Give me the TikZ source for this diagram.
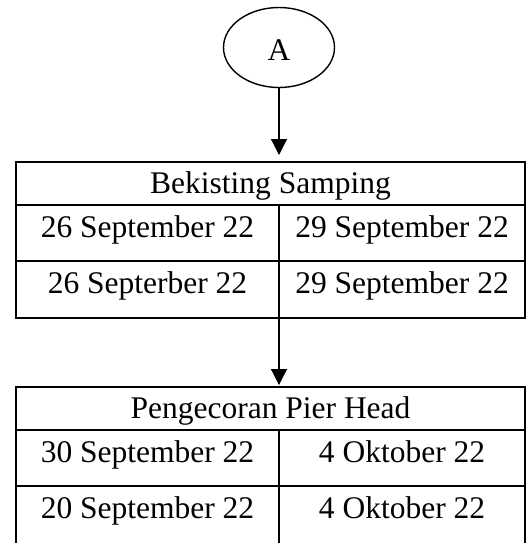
\documentclass[tikz,border=0pt]{standalone}
\usepackage{fontspec}
\setmainfont{Liberation Serif}
\usetikzlibrary{arrows.meta,shapes.geometric}
\begin{document}
\begin{tikzpicture}[x=1pt,y=-1pt,
  txt/.style={font=\fontsize{31.5}{37}\selectfont},
  cell/.style={txt, draw, line width=1.3pt, inner sep=0pt, outer sep=0pt,
    minimum height=56pt, text height=29pt, text depth=21pt},
  leftcell/.style={cell, minimum width=263pt},
  rightcell/.style={cell, minimum width=246pt},
  headcell/.style={cell, minimum width=509pt, minimum height=43pt,
    text height=31pt, text depth=12pt},
  frame/.style={line width=2pt},
  link/.style={line width=1.2pt, -{Triangle[length=16pt,width=16pt]}},
  startnode/.style={txt, ellipse, draw, line width=1.4pt, minimum width=111pt,
    minimum height=80pt, inner sep=0pt, text height=26pt, text depth=0pt}
]
\useasboundingbox (0,0) rectangle (528,543);

% connector label at the top
\node[startnode] (A) at (279,47.5) {A};

% first schedule table
\node[headcell] (h1) at (270.5,183.5) {Bekisting Samping};
\node[leftcell] (a1l) at (147.5,233) {26 September 22};
\node[rightcell] (a1r) at (402,233) {29 September 22};
\node[leftcell, minimum height=57pt, text height=28.5pt, text depth=21.5pt] (b1l) at (147.5,289.5) {26 Septerber 22};
\node[rightcell, minimum height=57pt, text height=28.5pt, text depth=21.5pt] (b1r) at (402,289.5) {29 September 22};
\draw[frame] (h1.north west) rectangle (b1r.south east);

% second schedule table (runs off the bottom edge)
\node[headcell] (h2) at (270.5,408.5) {Pengecoran Pier Head};
\node[leftcell] (a2l) at (147.5,458) {30 September 22};
\node[rightcell] (a2r) at (402,458) {4 Oktober 22};
\node[leftcell, minimum height=59pt, text height=26pt, text depth=21pt] (b2l) at (147.5,515.5) {20 September 22};
\node[rightcell, minimum height=59pt, text height=26pt, text depth=21pt] (b2r) at (402,515.5) {4 Oktober 22};
\draw[frame] (h2.north west) rectangle (b2r.south east);

% flow arrows
\draw[link, shorten >=7pt] (A.south) -- (A.south |- h1.north);
\draw[link, shorten >=2pt] (b1l.south east) -- (b1l.south east |- h2.north);
\end{tikzpicture}
\end{document}
